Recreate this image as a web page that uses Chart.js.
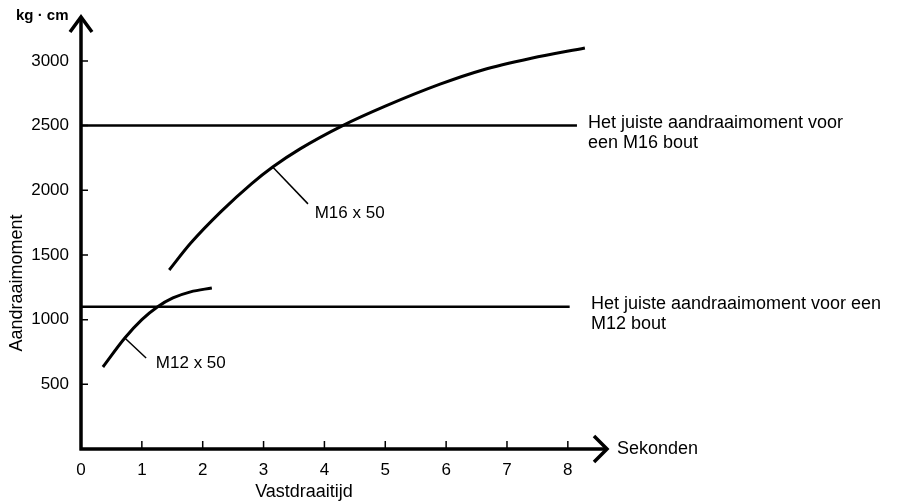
<!DOCTYPE html>
<html>
<head>
<meta charset="utf-8">
<script src="https://cdn.jsdelivr.net/npm/chart.js@4.4.1/dist/chart.umd.min.js"></script>
<style>
  html, body { margin: 0; padding: 0; background: #fff; }
  #wrap { width: 898px; height: 502px; }
</style>
</head>
<body>
<div id="wrap"><canvas id="grafiek" width="898" height="502"></canvas></div>
<script>
// ---- data ----
const xTicks = [0, 1, 2, 3, 4, 5, 6, 7, 8];
const yTicks = [500, 1000, 1500, 2000, 2500, 3000];

// M16 x 50 curve (seconds, kg·cm)
const m16Tijd = [1.45, 1.8, 2.3, 2.8, 3.15, 3.6, 4.3, 5.0, 5.9, 6.6, 7.4, 8.28];
const m16Moment = [1384, 1590, 1835, 2050, 2180, 2320, 2500, 2650, 2820, 2930, 3020, 3100];

// M12 x 50 curve
const m12Tijd = [0.36, 0.72, 1.0, 1.26, 1.51, 1.8, 2.15];
const m12Moment = [634, 858, 1000, 1100, 1168, 1215, 1245];

// correct torque reference lines
const juisteMoment = [2500, 1100];
const lijnEinde = [8.15, 8.03];
const tekstStart = [8.33, 8.38];
const lijnTekst = [
  ["Het juiste aandraaimoment voor", "een M16 bout"],
  ["Het juiste aandraaimoment voor een", "M12 bout"]
];

// curve labels with leader lines
const labelTekst = ["M16 x 50", "M12 x 50"];
const leiderVan = [[3.15, 2180], [0.72, 858]];
const leiderNaar = [[3.73, 1895], [1.07, 704]];
const labelPos = [[3.84, 1825], [1.23, 665]];

const X_MAX = 8.66;
const Y_MAX = 3355;

const FONT = "'Liberation Sans', Arial, Helvetica, sans-serif";

function punten(xs, ys) {
  return xs.map((x, i) => ({ x: x, y: ys[i] }));
}

const datasets = [
  {
    label: "M16 x 50",
    data: punten(m16Tijd, m16Moment),
    borderColor: "#000",
    borderWidth: 3,
    cubicInterpolationMode: "monotone"
  },
  {
    label: "M12 x 50",
    data: punten(m12Tijd, m12Moment),
    borderColor: "#000",
    borderWidth: 3,
    cubicInterpolationMode: "monotone"
  }
];

juisteMoment.forEach((m, i) => {
  datasets.push({
    label: "juist " + i,
    data: [{ x: 0, y: m }, { x: lijnEinde[i], y: m }],
    borderColor: "#000",
    borderWidth: 2.5
  });
});

leiderVan.forEach((p, i) => {
  datasets.push({
    label: "leider " + i,
    data: [{ x: p[0], y: p[1] }, { x: leiderNaar[i][0], y: leiderNaar[i][1] }],
    borderColor: "#000",
    borderWidth: 1.5
  });
});

// =========================
//   Assen, pijlen, teksten
// =========================
const assenPlugin = {
  id: "assen",
  afterDatasetsDraw(chart) {
    const ctx = chart.ctx;
    const xs = chart.scales.x;
    const ys = chart.scales.y;
    const x0 = xs.getPixelForValue(0);
    const y0 = ys.getPixelForValue(0);
    const xEnd = xs.getPixelForValue(X_MAX);
    const yEnd = ys.getPixelForValue(Y_MAX);

    ctx.save();
    ctx.strokeStyle = "#000";
    ctx.fillStyle = "#000";
    ctx.lineCap = "butt";

    // axis lines
    ctx.lineWidth = 3.5;
    ctx.beginPath();
    ctx.moveTo(x0, y0 + 1.5);
    ctx.lineTo(x0, yEnd + 2);
    ctx.moveTo(x0 - 1.5, y0);
    ctx.lineTo(xEnd - 2, y0);
    ctx.stroke();

    // arrow heads
    ctx.lineWidth = 3.5;
    ctx.lineJoin = "miter";
    ctx.beginPath();
    ctx.moveTo(x0 - 11, yEnd + 17);
    ctx.lineTo(x0, yEnd + 2);
    ctx.lineTo(x0 + 11, yEnd + 17);
    ctx.moveTo(xEnd - 14, y0 - 13);
    ctx.lineTo(xEnd - 1, y0);
    ctx.lineTo(xEnd - 14, y0 + 13);
    ctx.stroke();

    // inner tick marks
    ctx.lineWidth = 1.5;
    ctx.beginPath();
    yTicks.forEach(v => {
      const py = ys.getPixelForValue(v);
      ctx.moveTo(x0, py);
      ctx.lineTo(x0 + 7, py);
    });
    xTicks.slice(1).forEach(v => {
      const px = xs.getPixelForValue(v);
      ctx.moveTo(px, y0);
      ctx.lineTo(px, y0 - 8);
    });
    ctx.stroke();

    // unit + axis names
    ctx.textBaseline = "middle";
    ctx.textAlign = "left";
    ctx.font = "bold 15px " + FONT;
    ctx.fillText("kg \u00b7 cm", 16, yEnd + 1);

    ctx.font = "18px " + FONT;
    ctx.fillText("Sekonden", xEnd + 9, y0);

    ctx.textAlign = "center";
    ctx.fillText("Vastdraaitijd", 304, 492);

    ctx.save();
    ctx.translate(17, 283);
    ctx.rotate(-Math.PI / 2);
    ctx.fillText("Aandraaimoment", 0, 0);
    ctx.restore();

    // reference line texts
    ctx.textAlign = "left";
    juisteMoment.forEach((m, i) => {
      const px = xs.getPixelForValue(tekstStart[i]);
      const py = ys.getPixelForValue(m);
      ctx.fillText(lijnTekst[i][0], px, py - 3);
      ctx.fillText(lijnTekst[i][1], px, py + 17);
    });

    // curve labels
    ctx.font = "17px " + FONT;
    labelTekst.forEach((t, i) => {
      ctx.fillText(t, xs.getPixelForValue(labelPos[i][0]), ys.getPixelForValue(labelPos[i][1]));
    });

    ctx.restore();
  }
};

new Chart(document.getElementById("grafiek"), {
  type: "scatter",
  data: { datasets: datasets },
  options: {
    responsive: false,
    animation: false,
    showLine: true,
    elements: { point: { radius: 0, hoverRadius: 0 } },
    layout: { padding: { top: 15, right: 290, bottom: 0, left: 0 } },
    plugins: {
      legend: { display: false },
      tooltip: { enabled: false }
    },
    scales: {
      x: {
        type: "linear",
        min: 0,
        max: X_MAX,
        grid: { display: false },
        border: { display: false },
        afterBuildTicks: s => { s.ticks = xTicks.map(v => ({ value: v })); },
        afterFit: s => { s.height = 53; s.paddingLeft = 0; s.paddingRight = 0; },
        ticks: {
          autoSkip: false,
          maxRotation: 0,
          padding: 3,
          color: "#000",
          font: { family: FONT, size: 17 },
          callback: v => String(v)
        }
      },
      y: {
        type: "linear",
        min: 0,
        max: Y_MAX,
        grid: { display: false },
        border: { display: false },
        afterBuildTicks: s => { s.ticks = yTicks.map(v => ({ value: v })); },
        afterFit: s => { s.width = 81; s.paddingTop = 0; s.paddingBottom = 0; },
        ticks: {
          autoSkip: false,
          padding: 4,
          color: "#000",
          font: { family: FONT, size: 17 },
          callback: v => String(v)
        }
      }
    }
  },
  plugins: [assenPlugin]
});
</script>
</body>
</html>
